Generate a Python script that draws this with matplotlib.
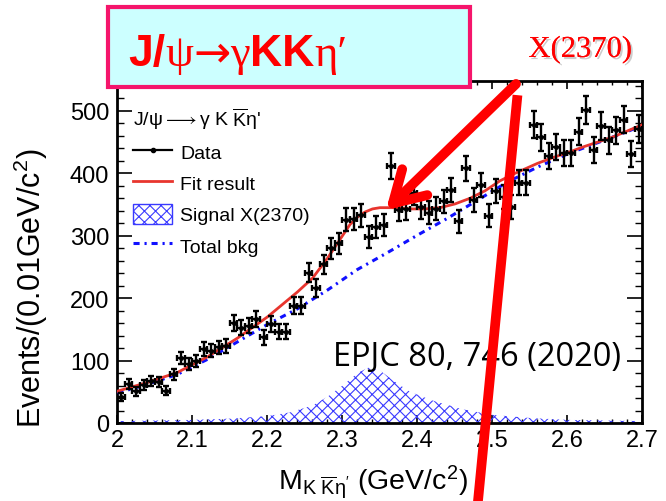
import numpy as np
import matplotlib
matplotlib.use('Agg')
import matplotlib.pyplot as plt
from matplotlib.lines import Line2D
from matplotlib.patches import Patch, Rectangle, FancyArrowPatch
from matplotlib.ticker import MultipleLocator, FuncFormatter
import matplotlib.patheffects as pe

plt.rcParams['font.family'] = ['Liberation Sans', 'DejaVu Sans']
plt.rcParams['mathtext.fontset'] = 'custom'
plt.rcParams['mathtext.rm'] = 'Liberation Sans'
plt.rcParams['mathtext.it'] = 'Liberation Sans:italic'
plt.rcParams['mathtext.bf'] = 'Liberation Sans:bold'
plt.rcParams['hatch.linewidth'] = 0.8

# binning: 0.01 GeV bins from 2.0 to 2.7
bin_lo, bin_width, n_bins = 2.0, 0.01, 70
mass = bin_lo + bin_width * (np.arange(n_bins) + 0.5)

counts = [41, 62, 51, 61, 67, 65, 52, 78, 104, 94,
          99, 119, 116, 121, 124, 160, 153, 156, 167, 137,
          159, 146, 146, 188, 188, 241, 216, 254, 280, 288,
          326, 327, 333, 298, 314, 317, 412, 342, 343, 368,
          346, 337, 343, 355, 374, 323, 408, 357, 381, 332,
          371, 362, 346, 385, 385, 478, 458, 428, 442, 433,
          433, 467, 502, 438, 476, 453, 469, 486, 431, 471]

fit_x = [2.00, 2.04, 2.08, 2.12, 2.16, 2.20, 2.22, 2.24, 2.26, 2.28, 2.30,
         2.31, 2.32, 2.33, 2.34, 2.35, 2.37, 2.39, 2.41, 2.43, 2.45, 2.47,
         2.49, 2.51, 2.53, 2.56, 2.58, 2.60, 2.62, 2.64, 2.66, 2.68, 2.70]
fit_y = [51, 65, 81, 106, 136, 170, 190, 210, 232, 264, 300,
         318, 330, 338, 343, 345, 345, 343, 343, 345, 351, 360,
         372, 388, 400, 416, 425, 433, 442, 450, 458, 468, 478]

bkg_x = [2.00, 2.04, 2.08, 2.12, 2.16, 2.20, 2.24, 2.28, 2.32, 2.36,
         2.40, 2.44, 2.48, 2.52, 2.56, 2.60, 2.64, 2.68, 2.70]
bkg_y = [48, 62, 78, 102, 130, 158, 183, 213, 246, 273,
         301, 328, 357, 386, 410, 431, 449, 467, 477]

sig_x = [2.00, 2.05, 2.10, 2.15, 2.20, 2.23, 2.26, 2.28, 2.30, 2.32, 2.335,
         2.35, 2.37, 2.39, 2.42, 2.46, 2.50, 2.55, 2.60, 2.65, 2.70]
sig_y = [3, 4, 5, 7, 11, 17, 28, 42, 60, 80, 89,
         84, 66, 50, 36, 22, 13, 8, 5, 4, 3]

fig = plt.figure(figsize=(6.66, 5.02), dpi=100)
ax = fig.add_axes([0.1764, 0.1554, 0.7883, 0.6813])

ax.fill_between(sig_x, 0, sig_y, facecolor='none', edgecolor='#3a3aff',
                hatch='xxx', linewidth=0, zorder=2)
ax.plot(bkg_x, bkg_y, color='#1010ff', lw=2.2, ls=(0, (2.0, 1.6, 0.7, 1.6)), zorder=3)
ax.plot(fit_x, fit_y, color='#e8352e', lw=2, zorder=4)
ax.errorbar(mass, counts, xerr=bin_width / 2, yerr=np.sqrt(counts), fmt='o', ms=2.5,
            color='black', elinewidth=1.7, capsize=2, capthick=1.7, zorder=5)

ax.set_xlim(2.0, 2.7)
ax.set_ylim(0, 548)
ax.xaxis.set_major_locator(MultipleLocator(0.1))
ax.xaxis.set_minor_locator(MultipleLocator(0.02))
ax.yaxis.set_major_locator(MultipleLocator(100))
ax.yaxis.set_minor_locator(MultipleLocator(20))
ax.xaxis.set_major_formatter(FuncFormatter(lambda v, p: '%g' % round(v, 2)))
ax.tick_params(which='both', direction='in', top=True, right=True, labelsize=17)
ax.tick_params(axis='x', which='major', length=6, width=1.2, pad=4)
ax.tick_params(axis='x', which='minor', length=3, width=1)
ax.tick_params(axis='y', which='major', length=11, width=1.2, pad=6)
ax.tick_params(axis='y', which='minor', length=5, width=1)
for s in ax.spines.values():
    s.set_linewidth(2)

fig.text(0.0465, 0.425, r'Events/(0.01GeV/c$^{2}$)', rotation=90,
         ha='center', va='center', fontsize=22)
fig.text(0.417, 0.024, r"M$_{\mathrm{K\ \overline{K}\eta'}}$ (GeV/c$^{2}$)",
         ha='left', va='baseline', fontsize=20.5)

handles = [Line2D([], [], color='black', lw=1.6, marker='o', ms=3),
           Line2D([], [], color='#e8352e', lw=2),
           Patch(facecolor='none', edgecolor='#3a3aff', hatch='xxx', lw=1),
           Line2D([], [], color='#1010ff', lw=2.2, ls=(0, (2.0, 1.6, 0.7, 1.6)))]
labels = ['Data', 'Fit result', 'Signal X(2370)', 'Total bkg']
leg = ax.legend(handles, labels, loc='upper left', bbox_to_anchor=(0.03, 0.93),
                frameon=False, fontsize=14, handlelength=2.0, handleheight=1.2,
                handletextpad=0.4, labelspacing=0.55, borderpad=0, borderaxespad=0,
                title=r"J/$\mathrm{\psi}$$\longrightarrow$$\mathrm{\gamma}$ K $\mathrm{\overline{K}\eta}$'",
                title_fontsize=14, alignment='left')

ax.text(0.716, 0.287, 'EPJC 80, 746 (2020)', transform=fig.transFigure,
        ha='center', va='center', fontsize=23.5, family=['Open Sans', 'DejaVu Sans'], zorder=6)

# title box
fig.patches.append(Rectangle((108 / 666, 1 - 88 / 502), 362 / 666, 80 / 502,
                             transform=fig.transFigure, facecolor='#ccffff',
                             edgecolor='#f5156b', lw=3, zorder=5))

sans_b = dict(family=['Liberation Sans', 'DejaVu Sans'], fontweight='bold', fontsize=32)
serif = dict(family=['Liberation Serif', 'DejaVu Serif'], fontsize=32)
arrow_f = dict(family=['DejaVu Sans'], fontsize=32)
pieces = [('J/', sans_b), ('\u03c8', serif), ('\u2192', arrow_f), ('\u03b3', serif),
          ('KK', sans_b), ('\u03b7\u2032', serif)]
renderer = fig.canvas.get_renderer()
xpos = 128 / 666
for s, kw in pieces:
    t = fig.text(xpos, 1 - 66 / 502, s, ha='left', va='baseline', color='#ff0000', zorder=6, **kw)
    xpos += t.get_window_extent(renderer).width / fig.bbox.width

fig.text(580 / 666, 1 - 58 / 502, 'X(2370)', ha='center', va='baseline', color='#ff0000',
         fontsize=22, family=['Liberation Serif', 'DejaVu Serif'],
         path_effects=[pe.withSimplePatchShadow(offset=(1.5, -1.5), shadow_rgbFace='gray', alpha=0.4),
                       pe.Normal()])

arrow = FancyArrowPatch((518 / 666, 1 - 83 / 502), (384 / 666, 1 - 213 / 502),
                        transform=fig.transFigure, color='#ff0000', lw=7,
                        arrowstyle='->,head_length=2.2,head_width=1.3', mutation_scale=10,
                        zorder=10)
fig.add_artist(arrow)
fig.add_artist(Line2D([517 / 666, 478 / 666], [1 - 101 / 502, 0], transform=fig.transFigure,
                      color='#ff0000', lw=7, zorder=10))

fig.savefig('out.png', dpi=100)
